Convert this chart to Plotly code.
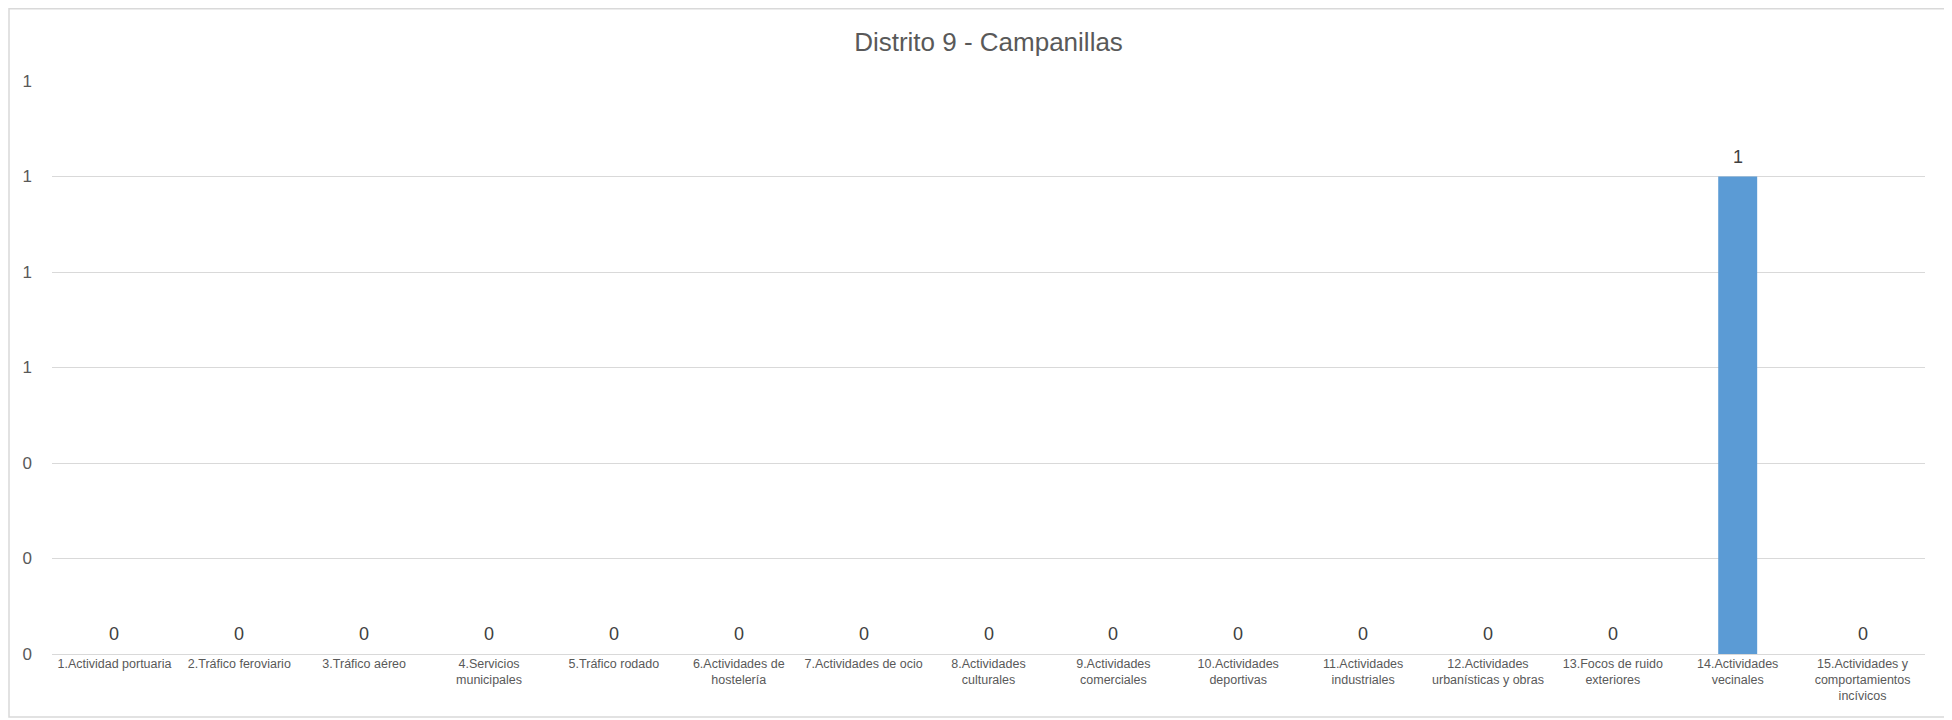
import plotly.graph_objects as go

categories = [
    "1.Actividad portuaria",
    "2.Tráfico feroviario",
    "3.Tráfico aéreo",
    "4.Servicios<br>municipales",
    "5.Tráfico rodado",
    "6.Actividades de<br>hostelería",
    "7.Actividades de ocio",
    "8.Actividades<br>culturales",
    "9.Actividades<br>comerciales",
    "10.Actividades<br>deportivas",
    "11.Actividades<br>industriales",
    "12.Actividades<br>urbanísticas y obras",
    "13.Focos de ruido<br>exteriores",
    "14.Actividades<br>vecinales",
    "15.Actividades y<br>comportamientos<br>incívicos",
]
values = [0, 0, 0, 0, 0, 0, 0, 0, 0, 0, 0, 0, 0, 1, 0]
y_ticks = [0, 0.2, 0.4, 0.6, 0.8, 1.0, 1.2]
title = "Distrito 9 - Campanillas"

FONT = "Liberation Sans, Arial, sans-serif"

fig = go.Figure()
fig.add_trace(go.Bar(
    x=list(range(len(categories))),
    y=values,
    marker=dict(color="#5B9BD5", line=dict(width=0)),
    hoverinfo="skip",
))

annotations = []
for i, v in enumerate(values):
    annotations.append(dict(
        x=i, y=v, xref="x", yref="y",
        text=str(v), showarrow=False,
        yanchor="middle", yshift=20,
        font=dict(family=FONT, size=18, color="#404040"),
    ))
fig.update_layout(annotations=annotations)

# page body has an 8px default margin, so the figure is offset by 8px
OFF = 8
W, H = 1952 - OFF, 720 - OFF
ml, mr, mt, mb = 52 - OFF, 27, 81 - OFF, 66
pw, ph = W - ml - mr, H - mt - mb

def px_x(p):
    return (p - OFF - ml) / pw

def px_y(p):
    return (H - mb - (p - OFF)) / ph

fig.add_shape(type="rect", xref="paper", yref="paper",
              x0=px_x(9), x1=px_x(1949), y0=px_y(717), y1=px_y(8.75),
              line=dict(color="#d9d9d9", width=1.5), fillcolor="rgba(0,0,0,0)",
              layer="below")

fig.update_layout(
    width=W, height=H,
    margin=dict(l=ml, r=mr, t=mt, b=mb),
    paper_bgcolor="white", plot_bgcolor="white",
    showlegend=False,
    bargap=0.688,
    title=dict(text=title, x=0.5, xref="paper", xanchor="center",
               y=1 - (42 - OFF) / H, yref="container", yanchor="middle",
               font=dict(family=FONT, size=26, color="#595959")),
    xaxis=dict(
        tickmode="array", tickvals=list(range(len(categories))), ticktext=categories,
        range=[-0.5, len(categories) - 0.5],
        showgrid=False, zeroline=False, showline=False,
        ticks="", tickangle=0,
        tickfont=dict(family=FONT, size=12.5, color="#595959"),
    ),
    yaxis=dict(
        range=[0, 1.2], tickmode="array", tickvals=y_ticks, tickformat=".0f",
        showgrid=True, gridcolor="#d9d9d9", gridwidth=1,
        zeroline=True, zerolinecolor="#d9d9d9", zerolinewidth=1,
        showline=False, ticks="", ticklabelstandoff=19,
        tickfont=dict(family=FONT, size=17, color="#595959"),
    ),
    font=dict(family=FONT),
)

fig.write_html("out.html")
